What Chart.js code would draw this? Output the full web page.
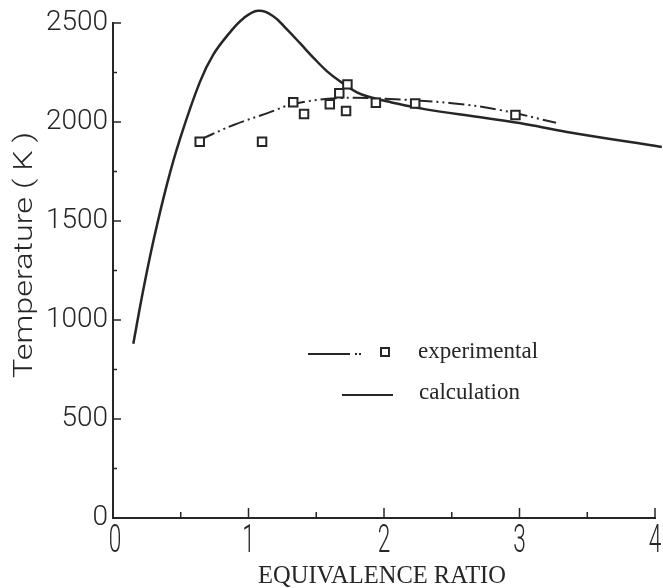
<!DOCTYPE html>
<html lang="en">
<head>
    <meta charset="UTF-8">
    <title>Temperature vs Equivalence Ratio</title>
    <script src="https://cdn.jsdelivr.net/npm/chart.js"></script>
    <style>
        body { margin: 0; background: #fff; }
        #chart-container { width: 663px; height: 588px; position: relative; }
    </style>
</head>
<body>
    <div id="chart-container"><canvas id="tempChart"></canvas></div>

    <script>
        // calculation curve
        const calcX = [0.15, 0.22, 0.30, 0.40, 0.49, 0.64, 0.74, 0.86, 0.96, 1.07, 1.18, 1.28, 1.38, 1.48, 1.58, 1.68, 1.80, 1.90, 2.05, 2.30, 2.70, 3.00, 3.35, 4.05];
        const calcY = [880, 1140, 1405, 1690, 1905, 2200, 2340, 2450, 2522, 2562, 2535, 2470, 2398, 2324, 2256, 2203, 2150, 2125, 2100, 2065, 2025, 1995, 1950, 1874];

        // experimental fit (dash-dot-dot)
        const fitX = [0.64, 0.89, 1.14, 1.33, 1.65, 2.00, 2.50, 2.86, 3.27];
        const fitY = [1910, 1985, 2045, 2090, 2120, 2117, 2095, 2060, 1996];

        // experimental points
        const expX = [0.64, 1.10, 1.33, 1.41, 1.60, 1.67, 1.73, 1.72, 1.94, 2.23, 2.97];
        const expY = [1900, 1900, 2100, 2040, 2090, 2145, 2190, 2055, 2097, 2094, 2035];

        const xLabels = ['0', '1', '2', '3', '4'];
        const yLabels = ['0', '500', '1000', '1500', '2000', '2500'];

        const ink = '#262626';
        const toPoints = (xs, ys) => xs.map((x, i) => ({ x: x, y: ys[i] }));

        // inward ticks, narrow x labels, titles and legend
        const extras = {
            id: 'extras',
            afterDraw(chart) {
                const ctx = chart.ctx;
                const xs = chart.scales.x, ys = chart.scales.y;
                const area = chart.chartArea;
                ctx.save();
                ctx.strokeStyle = ink;
                ctx.fillStyle = ink;
                ctx.lineWidth = 1.5;
                for (let v = 0; v <= 2500; v += 250) {
                    const py = ys.getPixelForValue(v);
                    const len = v % 500 === 0 ? 8 : 4;
                    ctx.beginPath(); ctx.moveTo(area.left, py); ctx.lineTo(area.left + len, py); ctx.stroke();
                }
                for (let v = 0; v <= 4; v += 0.5) {
                    const px = xs.getPixelForValue(v);
                    const len = v % 1 === 0 ? 10 : 6;
                    ctx.beginPath(); ctx.moveTo(px, area.bottom); ctx.lineTo(px, area.bottom - len); ctx.stroke();
                }

                // x tick labels, tall and narrow like the scan
                ctx.font = '300 39px Roboto';
                ctx.textAlign = 'center';
                ctx.textBaseline = 'alphabetic';
                xLabels.forEach((lab, i) => {
                    ctx.save();
                    ctx.translate(xs.getPixelForValue(i) + (i === 0 ? 2 : 0), area.bottom + 34);
                    ctx.scale(0.58, 1);
                    ctx.fillText(lab, 0, 0);
                    ctx.restore();
                });

                // y title, stretched like the scan
                ctx.font = '300 26px Roboto';
                ctx.textBaseline = 'middle';
                const yTitle = 'Temperature ( K )';
                const s = 246 / ctx.measureText(yTitle).width;
                ctx.save();
                ctx.translate(25, 255);
                ctx.rotate(-Math.PI / 2);
                ctx.scale(s, 1);
                ctx.fillText(yTitle, 0, 0);
                ctx.restore();

                // x title
                ctx.font = '24.5px "Liberation Serif"';
                ctx.fillText('EQUIVALENCE RATIO', 382, 577);

                // legend
                ctx.lineWidth = 2;
                ctx.beginPath(); ctx.moveTo(308, 354); ctx.lineTo(350, 354); ctx.stroke();
                ctx.fillRect(355, 353, 2, 2);
                ctx.fillRect(359, 353, 2, 2);
                ctx.strokeRect(381, 348, 8, 8);
                ctx.beginPath(); ctx.moveTo(342, 395); ctx.lineTo(393, 395); ctx.stroke();
                ctx.textAlign = 'left';
                ctx.font = '23px "Liberation Serif"';
                ctx.fillText('experimental', 418, 352);
                ctx.fillText('calculation', 419, 393);
                ctx.restore();
            }
        };

        const ctx = document.getElementById('tempChart').getContext('2d');
        new Chart(ctx, {
            data: {
                datasets: [
                    {
                        type: 'scatter', label: 'experimental', data: toPoints(expX, expY),
                        pointStyle: 'rect', pointRadius: 6, borderWidth: 2,
                        borderColor: ink, backgroundColor: '#fff'
                    },
                    {
                        type: 'line', label: 'experimental fit', data: toPoints(fitX, fitY),
                        borderColor: ink, borderWidth: 2, borderDash: [16, 4, 2, 4, 2, 4],
                        pointRadius: 0, tension: 0.4
                    },
                    {
                        type: 'line', label: 'calculation', data: toPoints(calcX, calcY),
                        borderColor: ink, borderWidth: 2.5, pointRadius: 0,
                        tension: 0.4, clip: false
                    }
                ]
            },
            plugins: [extras],
            options: {
                responsive: true,
                maintainAspectRatio: false,
                animation: false,
                layout: { padding: { top: 23, right: 8, left: 0, bottom: 0 } },
                plugins: { legend: { display: false }, tooltip: { enabled: false } },
                scales: {
                    x: {
                        type: 'linear', min: 0, max: 4,
                        afterFit: (scale) => { scale.height = 70; },
                        grid: { drawOnChartArea: false, drawTicks: false },
                        border: { color: ink, width: 2 },
                        ticks: { display: false, stepSize: 1 }
                    },
                    y: {
                        type: 'linear', min: 0, max: 2500,
                        afterFit: (scale) => { scale.width = 113; },
                        grid: { drawOnChartArea: false, drawTicks: false },
                        border: { color: ink, width: 2 },
                        ticks: {
                            stepSize: 500, padding: 5, color: ink,
                            font: { family: 'Roboto', size: 28, weight: 300 },
                            callback: (v) => yLabels[v / 500]
                        }
                    }
                }
            }
        });
    </script>
</body>
</html>
